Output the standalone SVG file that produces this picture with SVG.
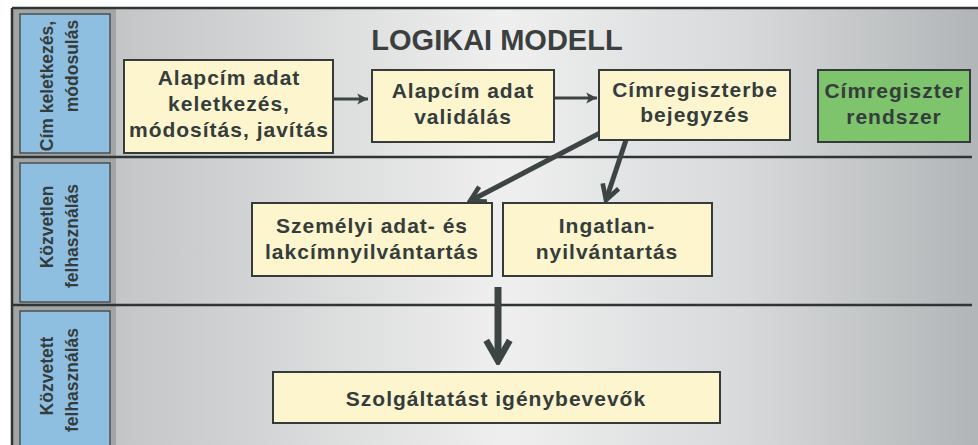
<svg xmlns="http://www.w3.org/2000/svg" width="978" height="445" viewBox="0 0 978 445">
<defs>
<linearGradient id="bg" x1="0" y1="0" x2="1" y2="0">
<stop offset="0" stop-color="#c3c5c6"/>
<stop offset="0.45" stop-color="#efefef"/>
<stop offset="0.72" stop-color="#d8dadb"/>
<stop offset="1" stop-color="#b2b5b7"/>
</linearGradient>
<marker id="chev" viewBox="0 0 10 10" markerWidth="4.2" markerHeight="4.2" refX="8.5" refY="5" orient="auto" markerUnits="strokeWidth">
<path d="M1.5,1 L8.5,5 L1.5,9" fill="none" stroke="#3c4444" stroke-width="2.2"/>
</marker>
<marker id="tri" viewBox="0 0 10 10" markerWidth="4.5" markerHeight="4.5" refX="9" refY="5" orient="auto" markerUnits="strokeWidth">
<path d="M1,1 L9,5 L1,9 L3,5 Z" fill="#3c4444"/>
</marker>
</defs>
<style>
.box{fill:#fcf5cd;stroke:#353b3b;stroke-width:2}
.green{fill:#7dc46c;stroke:#353b3b;stroke-width:2}
.lane{fill:#8fbfe0;stroke:#4a5051;stroke-width:1.5}
.t{font-family:"Liberation Sans",Arial,sans-serif;font-weight:bold;font-size:21px;letter-spacing:1px;fill:#353c3c;text-anchor:middle}
.lt{font-family:"Liberation Sans",Arial,sans-serif;font-weight:bold;font-size:17.5px;fill:#353c3c;text-anchor:middle}
.sep{stroke:#2f3535;stroke-width:2.5}
.conn{stroke:#3c4444;fill:none}
</style>
<rect x="0" y="0" width="978" height="445" fill="#ffffff"/>
<rect x="116" y="8" width="862" height="437" fill="url(#bg)"/>
<rect x="12" y="8" width="104" height="437" fill="#a3a5a5"/>
<line x1="12" y1="8" x2="12" y2="445" class="sep"/>
<line x1="12" y1="8" x2="978" y2="8" class="sep"/>
<line x1="12" y1="157" x2="972" y2="157" class="sep"/>
<line x1="12" y1="305" x2="972" y2="305" class="sep"/>

<g id="lane1">
<rect x="20" y="14" width="90" height="139" class="lane"/>
<text class="lt" transform="translate(53,86) rotate(-90)">Cím keletkezés,</text>
<text class="lt" transform="translate(78,66) rotate(-90)">módosulás</text>
</g>
<g id="lane2">
<rect x="20" y="163" width="90" height="139" class="lane"/>
<text class="lt" transform="translate(53,227) rotate(-90)">Közvetlen</text>
<text class="lt" transform="translate(78,236) rotate(-90)">felhasználás</text>
</g>
<g id="lane3">
<rect x="20" y="311" width="90" height="140" class="lane"/>
<text class="lt" transform="translate(53,376) rotate(-90)">Közvetett</text>
<text class="lt" transform="translate(78,380) rotate(-90)">felhasználás</text>
</g>

<g id="title">
<text x="497" y="50" font-family="Liberation Sans, Arial, sans-serif" font-weight="bold" font-size="29" fill="#3a4040" text-anchor="middle">LOGIKAI MODELL</text>
</g>

<g id="connectors">
<line x1="334" y1="99" x2="368" y2="99" class="conn" stroke-width="3" marker-end="url(#tri)"/>
<line x1="555" y1="98" x2="597" y2="98" class="conn" stroke-width="3" marker-end="url(#tri)"/>
<line x1="600" y1="133" x2="470" y2="201" class="conn" stroke-width="5" marker-end="url(#chev)"/>
<line x1="626" y1="140" x2="606" y2="200" class="conn" stroke-width="5" marker-end="url(#chev)"/>
<line x1="498" y1="287" x2="498" y2="361" class="conn" stroke-width="7" marker-end="url(#chev)"/>
</g>

<g id="n1">
<rect x="124" y="60" width="209" height="93" class="box"/>
<text class="t" x="229" y="85">Alapcím adat</text>
<text class="t" x="229" y="111">keletkezés,</text>
<text class="t" x="229" y="137">módosítás, javítás</text>
</g>
<g id="n2">
<rect x="372" y="70" width="182" height="72" class="box"/>
<text class="t" x="463" y="98">Alapcím adat</text>
<text class="t" x="463" y="124">validálás</text>
</g>
<g id="n3">
<rect x="599" y="70" width="191" height="70" class="box"/>
<text class="t" x="695" y="97">Címregiszterbe</text>
<text class="t" x="695" y="122">bejegyzés</text>
</g>
<g id="n4">
<rect x="818" y="70" width="152" height="72" class="green"/>
<text class="t" x="894" y="98">Címregiszter</text>
<text class="t" x="894" y="124">rendszer</text>
</g>
<g id="n5">
<rect x="252" y="203" width="240" height="73" class="box"/>
<text class="t" x="372" y="233">Személyi adat- és</text>
<text class="t" x="372" y="259">lakcímnyilvántartás</text>
</g>
<g id="n6">
<rect x="503" y="203" width="209" height="73" class="box"/>
<text class="t" x="607" y="233">Ingatlan-</text>
<text class="t" x="607" y="259">nyilvántartás</text>
</g>
<g id="n7">
<rect x="273" y="372" width="447" height="51" class="box"/>
<text class="t" x="496" y="406">Szolgáltatást igénybevevők</text>
</g>
</svg>
